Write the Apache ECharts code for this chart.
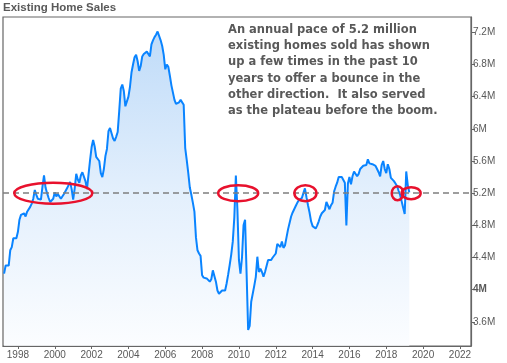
<!DOCTYPE html>
<html><head><meta charset="utf-8">
<script src="https://cdn.jsdelivr.net/npm/echarts@6/dist/echarts.min.js"></script>
<style>html,body{margin:0;padding:0;background:#fff}#c{width:507px;height:363px}</style>
</head><body><div id="c"></div>
<script>
// ---------- data ----------
const titleText = 'Existing Home Sales';
const noteLines = [
  'An annual pace of 5.2 million',
  'existing homes sold has shown',
  'up a few times in the past 10',
  'years to offer a bounce in the',
  'other direction.  It also served',
  'as the plateau before the boom.'
];
const startYear = 1997, startMonth = 4; // first observation: Apr 1997
const sales1997 = [4.20,4.30,4.28,4.30,4.49,4.53,4.64,4.62,4.64];
const sales1998 = [4.72,4.87,4.93,4.91,4.95,4.91,4.97,4.99,5.03,5.07,5.13,5.24];
const sales1999 = [5.18,5.13,5.11,5.12,5.28,5.42,5.27,5.20,5.14,5.09,5.09,5.13];
const sales2000 = [5.21,5.16,5.19,5.17,5.13,5.14,5.19,5.21,5.26,5.28,5.34,5.25];
const sales2001 = [5.12,5.26,5.44,5.37,5.33,5.42,5.46,5.46,5.35,5.25,5.23,5.61];
const sales2002 = [5.77,5.86,5.78,5.65,5.66,5.60,5.45,5.40,5.50,5.66,5.75,5.97];
const sales2003 = [6.01,6.03,5.88,5.85,5.90,5.96,6.22,6.50,6.55,6.47,6.28,6.30];
const sales2004 = [6.40,6.52,6.70,6.80,6.89,6.92,6.84,6.72,6.78,6.90,6.93,6.91];
const sales2005 = [6.96,6.94,6.90,7.05,7.10,7.14,7.17,7.21,7.20,7.10,7.03,6.92];
const sales2006 = [6.74,6.80,6.77,6.66,6.54,6.45,6.36,6.31,6.31,6.33,6.36,6.38];
const sales2007 = [6.30,5.76,5.61,5.45,5.27,5.18,5.08,4.97,4.65,4.49,4.45,4.42];
const sales2008 = [4.18,4.15,4.14,4.14,4.12,4.10,4.13,4.24,4.22,4.10,3.99,3.95];
const sales2009 = [3.94,3.99,3.97,3.99,4.08,4.19,4.31,4.44,4.60,4.90,5.42,5.00];
const sales2010 = [4.37,4.20,4.40,4.80,4.87,4.20,3.50,3.55,3.85,3.87,4.05,4.16];
const sales2011 = [4.41,4.22,4.26,4.22,4.16,4.22,4.20,4.37,4.36,4.37,4.40,4.42];
const sales2012 = [4.45,4.57,4.55,4.53,4.60,4.52,4.55,4.65,4.75,4.77,4.91,4.96];
const sales2013 = [5.00,5.04,5.08,5.11,5.13,5.14,5.20,5.26,5.15,5.05,4.96,4.85];
const sales2014 = [4.79,4.77,4.76,4.80,4.85,4.91,4.95,4.97,4.99,5.09,5.07,5.00];
const sales2015 = [5.05,5.08,5.22,5.28,5.33,5.40,5.41,5.40,5.38,5.33,4.80,5.32];
const sales2016 = [5.40,5.31,5.41,5.47,5.45,5.41,5.44,5.50,5.52,5.54,5.55,5.55];
const sales2017 = [5.62,5.57,5.59,5.56,5.56,5.54,5.50,5.46,5.41,5.55,5.60,5.50];
const sales2018 = [5.45,5.56,5.50,5.39,5.38,5.35,5.32,5.29,5.23,5.18,5.19,5.02];
const sales2019 = [4.94,5.47,5.30,5.21];
const xTicks = [1998,2000,2002,2004,2006,2008,2010,2012,2014,2016,2018,2020,2022];
const yTicks = [3.6,4.0,4.4,4.8,5.2,5.6,6.0,6.4,6.8,7.2];
const refLevel = 5.2;
// dates (decimal years) of the circled touches of the 5.2M level
const circledDates = [1999.92, 2009.96, 2013.61, 2018.61, 2019.35];

// ---------- build ----------
const sales = [].concat(sales1997,sales1998,sales1999,sales2000,sales2001,sales2002,
  sales2003,sales2004,sales2005,sales2006,sales2007,sales2008,sales2009,sales2010,
  sales2011,sales2012,sales2013,sales2014,sales2015,sales2016,sales2017,sales2018,sales2019);
const seriesData = sales.map((v,i)=>[startYear + (startMonth-1+i)/12, v]);

const axisGray = '#666';
const labelGray = '#595959';
const axisFont = '"Liberation Sans", Arial, sans-serif';

const chart = echarts.init(document.getElementById('c'), null, {renderer:'canvas'});
chart.setOption({
  animation:false,
  backgroundColor:'#fff',
  title:{
    text:titleText, left:3, top:2, padding:0,
    textStyle:{fontFamily:axisFont, fontSize:11.5, fontWeight:'bold', color:labelGray}
  },
  grid:{left:3, right:36, top:17, bottom:17, show:true, borderColor:axisGray, borderWidth:1.2, backgroundColor:'transparent'},
  xAxis:{
    type:'value', min:1997.19, max:2022.6,
    splitLine:{show:false},
    axisLine:{show:true, lineStyle:{color:axisGray, width:1.2}},
    axisTick:{show:true, customValues:xTicks, length:3, lineStyle:{color:axisGray}},
    axisLabel:{customValues:xTicks, formatter:v=>String(Math.round(v)), color:labelGray,
      fontFamily:axisFont, fontSize:10, margin:4}
  },
  yAxis:{
    type:'value', position:'right', min:3.3, max:7.39,
    splitLine:{show:false},
    axisLine:{show:true, lineStyle:{color:axisGray, width:1.2}},
    axisTick:{show:true, customValues:yTicks, length:4, lineStyle:{color:axisGray}},
    axisLabel:{customValues:yTicks, color:labelGray, fontFamily:axisFont, fontSize:10, margin:2,
      formatter:v=>{
        const r = Math.round(v*10)/10;
        const s = (Number.isInteger(r) ? r.toFixed(0) : r.toFixed(1)) + 'M';
        return Math.abs(r-4)<1e-9 ? '{b|'+s+'}' : s;
      },
      rich:{b:{fontWeight:'bold', color:labelGray, fontFamily:axisFont, fontSize:10}}
    }
  },
  series:[{
    type:'line', data:seriesData, showSymbol:false, symbol:'none',
    lineStyle:{color:'#0a84ff', width:2},
    areaStyle:{origin:'start', color:new echarts.graphic.LinearGradient(0,0,0,1,[
      {offset:0, color:'#a4ccf6'},
      {offset:0.5, color:'#d6e8fb'},
      {offset:1, color:'#fafcff'}
    ])},
    markLine:{
      silent:true, symbol:['none','none'], animation:false,
      label:{show:false},
      lineStyle:{type:[6,4], color:'#7f7f7f', width:1.5},
      data:[{yAxis:refLevel}]
    },
    z:2
  }]
});

// annotation ellipses (pixel sizes are styling) placed from data coordinates
const ellipseSizes = [[39,10.5],[20,8],[11,8],[5.8,7],[9.5,6]];
const graphics = circledDates.map((d,i)=>{
  const p = chart.convertToPixel({gridIndex:0}, [d, refLevel]);
  return {type:'ellipse', shape:{cx:p[0], cy:p[1], rx:ellipseSizes[i][0], ry:ellipseSizes[i][1]},
    style:{fill:'none', stroke:'#e8112d', lineWidth:2.5}, z:100};
});
graphics.push({
  type:'text', left:228, top:22, z:100,
  style:{text:noteLines.join('\n'), font:'bold 11.5px "DejaVu Sans", sans-serif', fill:labelGray, lineHeight:16.2}
});
chart.setOption({graphic:graphics});
</script>
</body></html>
